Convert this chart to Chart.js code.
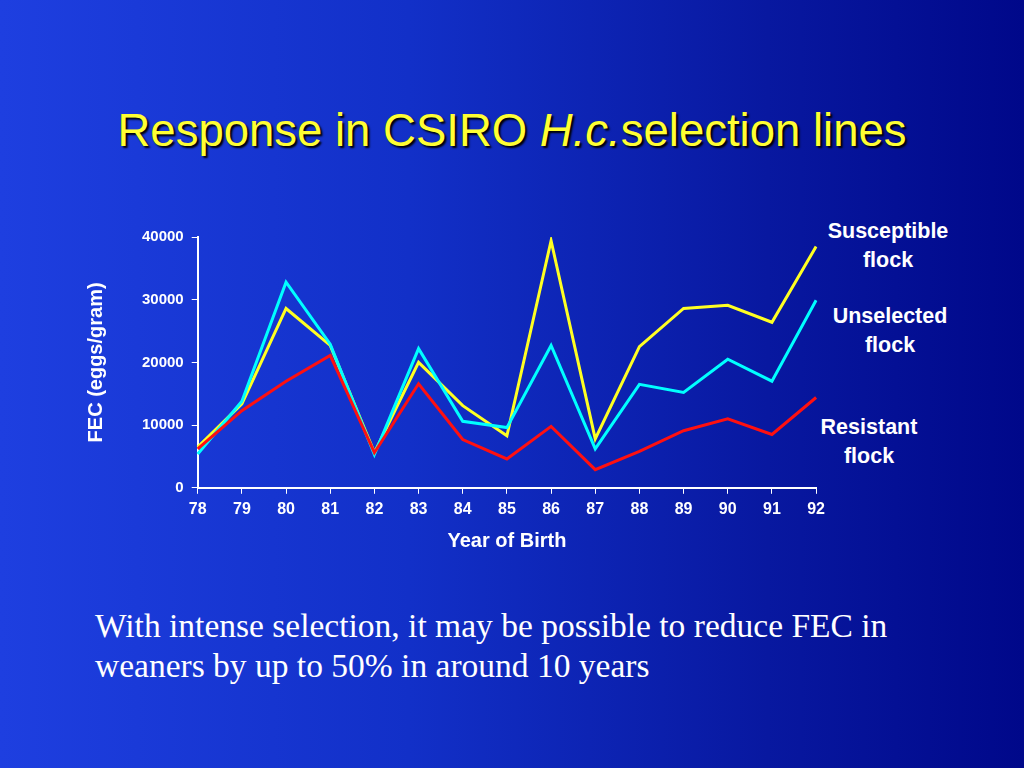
<!DOCTYPE html>
<html><head><meta charset="utf-8">
<script src="https://cdn.jsdelivr.net/npm/chart.js@4/dist/chart.umd.min.js"></script>
<style>
html,body{margin:0;padding:0;}
body{width:1024px;height:768px;overflow:hidden;position:relative;
background:linear-gradient(90deg,#1e3fe0 0%,#1230c8 40%,#0818a0 75%,#00088a 100%);font-family:"Liberation Sans",Arial,sans-serif;}
#title{position:absolute;top:105px;left:0;width:1024px;text-align:center;color:#ffff33;font-size:45.5px;text-shadow:2px 2px 2px #000;}
.lab{position:absolute;color:#fff;font-weight:bold;font-size:21.5px;text-align:center;line-height:29px;}
#foot{position:absolute;left:95px;top:606px;color:#fff;font-family:"Liberation Serif",serif;font-size:33.5px;line-height:40px;white-space:nowrap;}
#wrap{position:absolute;left:80px;top:220px;width:751px;height:337px;}
</style></head><body>
<div id="title">Response in CSIRO <i>H.c.</i>selection lines</div>
<div class="lab" style="left:808px;top:217px;width:160px;">Susceptible<br>flock</div>
<div class="lab" style="left:810px;top:302px;width:160px;">Unselected<br>flock</div>
<div class="lab" style="left:789px;top:413px;width:160px;">Resistant<br>flock</div>
<div id="foot">With intense selection, it may be possible to reduce FEC in<br>weaners by up to 50% in around 10 years</div>
<div id="wrap"><canvas id="c"></canvas></div>
<script>
const years=["78","79","80","81","82","83","84","85","86","87","88","89","90","91","92"];
const susceptible=[6500,13400,28600,22700,5600,20000,13100,8300,39400,7800,22500,28600,29100,26400,38500];
const unselected=[5400,13800,32800,22900,5300,22200,10600,9600,22700,6200,16500,15200,20500,17000,29900];
const resistant=[6200,12300,17000,21100,5600,16600,7700,4600,9800,2900,5800,9100,11000,8500,14400];
const yTicks=[0,10000,20000,30000,40000];
const ds=(d,c)=>({data:d,borderColor:c,borderWidth:3,pointRadius:0,tension:0,fill:false});
new Chart(document.getElementById('c'),{type:'line',
data:{labels:years,datasets:[ds(resistant,'#ff1010'),ds(unselected,'#00ffff'),ds(susceptible,'#ffff22')]},
options:{responsive:true,maintainAspectRatio:false,animation:false,
layout:{padding:{top:10,right:10}},
plugins:{legend:{display:false},tooltip:{enabled:false}},
scales:{
x:{offset:false,grid:{display:true,drawOnChartArea:false,color:'#fff',tickLength:6},border:{color:'#fff',width:2},
 ticks:{color:'#fff',font:{size:16,weight:'bold',family:'Liberation Sans'},maxRotation:0,padding:6},
 title:{display:true,text:'Year of Birth',color:'#fff',font:{size:20,weight:'bold',family:'Liberation Sans'},padding:{top:4}}},
y:{min:0,max:40000,afterBuildTicks:a=>{a.ticks=yTicks.map(v=>({value:v}));},
 grid:{display:true,drawOnChartArea:false,color:'#fff',tickLength:6},border:{color:'#fff',width:2},
 ticks:{color:'#fff',font:{size:15,weight:'bold',family:'Liberation Sans'},padding:8,callback:v=>String(v)},
 title:{display:true,text:'FEC (eggs/gram)',color:'#fff',font:{size:20,weight:'bold',family:'Liberation Sans'},padding:{bottom:26}}}
}}});
</script></body></html>
